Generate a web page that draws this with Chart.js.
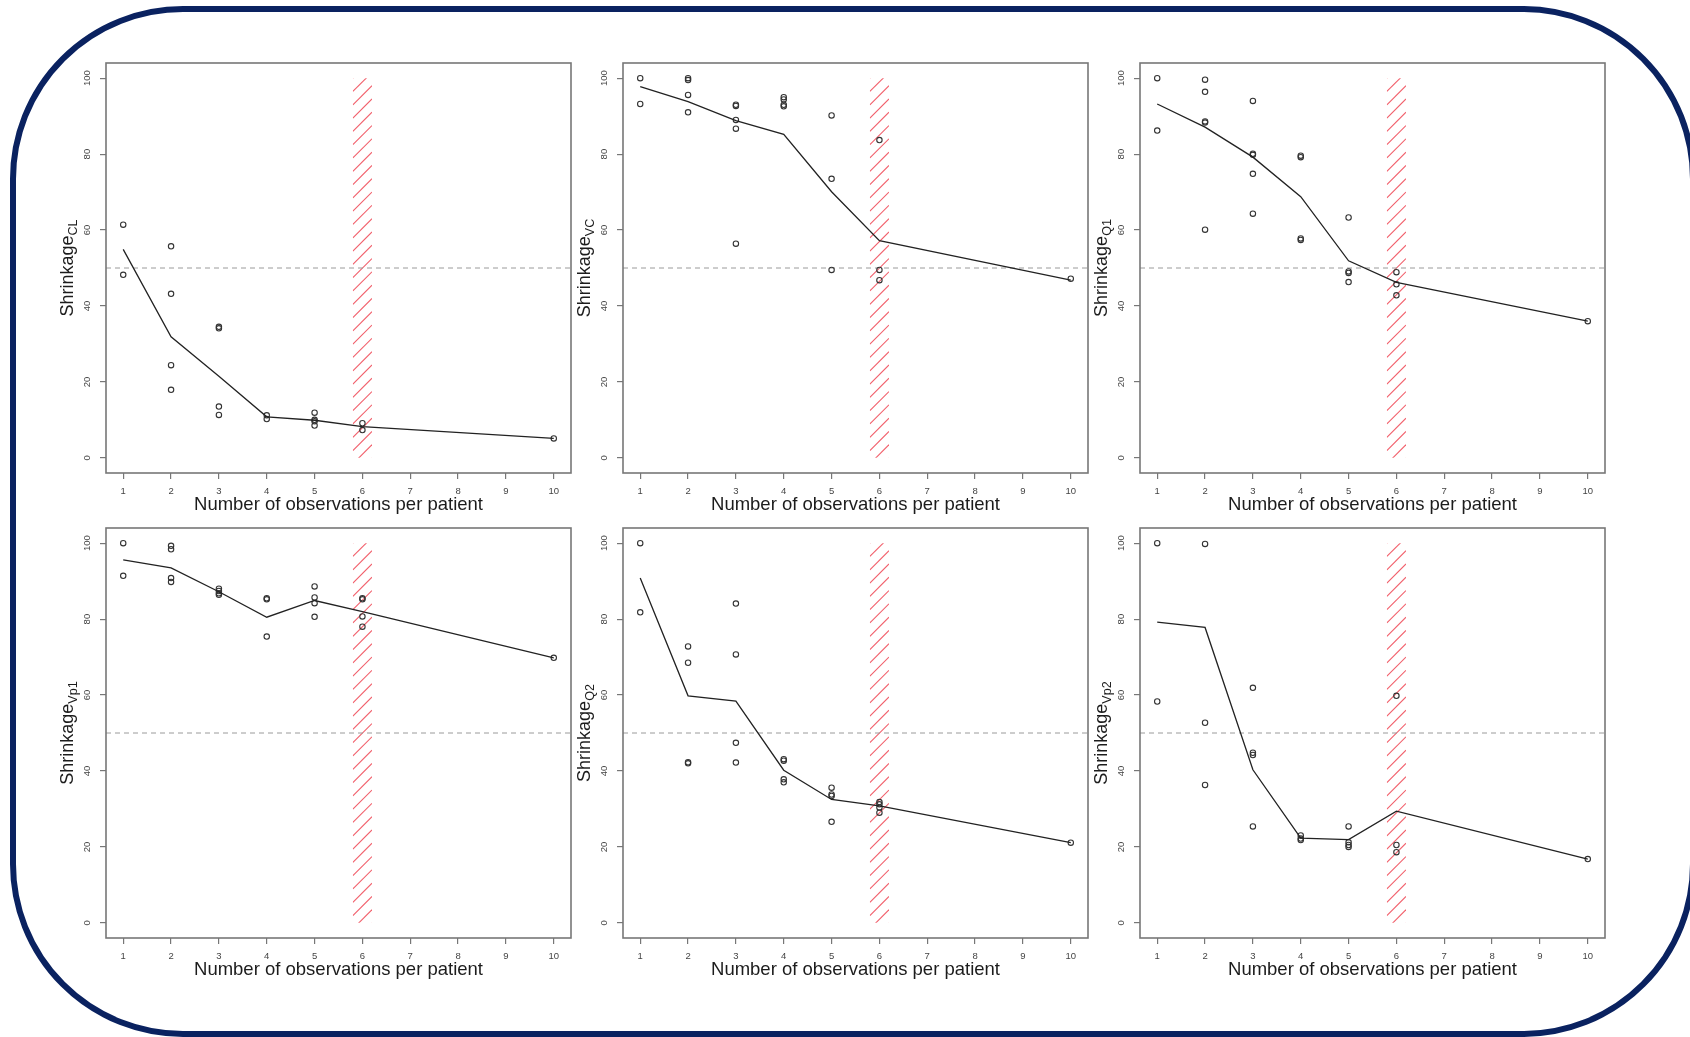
<!DOCTYPE html>
<html>
<head>
<meta charset="utf-8">
<script src="https://cdn.jsdelivr.net/npm/chart.js@4.4.1/dist/chart.umd.min.js"></script>
<style>
  html, body { margin: 0; padding: 0; background: #fff; }
  body { width: 1690px; height: 1037px; overflow: hidden; position: relative; }
  .frame {
    position: absolute; left: 9.5px; top: 6px; width: 1686.5px; height: 1031px;
    box-sizing: border-box; border: 6px solid #0a2260; border-radius: 173px;
  }
  canvas { position: absolute; }
</style>
</head>
<body>
<div class="frame"></div>
<script>
// number of observations per patient (x positions of the groups and of the mean line)
const obsCounts = [1, 2, 3, 4, 5, 6, 10];
const xTickValues = [1, 2, 3, 4, 5, 6, 7, 8, 9, 10];
const yTickValues = [0, 20, 40, 60, 80, 100];
const xTitle = 'Number of observations per patient';
const threshold = 50;
const bandFrom = 5.8;
const bandTo = 6.2;
const bandBottom = 0;
const bandTop = 100;

// shrinkage values of each replicate, grouped by obsCounts
const clPoints = [[61.4, 48.2], [55.7, 43.2, 24.4, 17.9], [34.5, 34.1, 13.5, 11.3], [11.2, 10.2], [11.9, 10.0, 9.6, 8.5], [9.1, 7.3], [5.1]];
const clMean = [54.9, 31.9, 21.5, 10.8, 9.9, 8.2, 5.1];

const vcPoints = [[100, 93.2], [100, 99.5, 95.6, 91.0], [93.0, 92.7, 89.0, 86.7, 56.4], [95.0, 94.4, 93.0, 92.6], [90.2, 73.5, 49.5], [83.7, 49.5, 46.8], [47.2]];
const vcMean = [97.8, 93.8, 88.8, 85.2, 70.1, 57.2, 46.8];

const q1Points = [[100, 86.2], [99.6, 96.4, 88.6, 88.3, 60.1], [94.0, 80.1, 79.8, 74.8, 64.3], [79.6, 79.2, 57.8, 57.4], [63.3, 49.1, 48.7, 46.3], [48.9, 45.7, 42.8], [36.0]];
const q1Mean = [93.2, 87.1, 79.2, 68.8, 51.9, 46.2, 36.0];

const vp1Points = [[100, 91.4], [99.3, 98.4, 90.8, 89.8], [88.0, 87.4, 86.8, 86.4], [85.5, 85.2, 75.4], [88.6, 85.7, 84.2, 80.6], [85.5, 85.2, 80.7, 78.0], [69.8]];
const vp1Mean = [95.6, 93.5, 87.2, 80.5, 84.9, 82.0, 69.8];

const q2Points = [[100, 81.8], [72.8, 68.5, 42.3, 42.0], [84.1, 70.7, 47.4, 42.2], [43.1, 42.7, 37.8, 37.0], [35.6, 33.8, 33.4, 26.6], [31.8, 31.2, 30.4, 29.0], [21.1]];
const q2Mean = [90.8, 59.8, 58.4, 40.2, 32.5, 30.8, 21.1];

const vp2Points = [[100, 58.3], [99.8, 52.7, 36.3], [61.9, 44.8, 44.2, 25.4], [23.0, 22.2, 21.8], [25.4, 21.2, 20.5, 20.0], [59.8, 20.5, 18.6], [16.8]];
const vp2Mean = [79.2, 77.8, 40.3, 22.3, 21.9, 29.4, 16.8];

const panels = [
  { sub: 'CL', points: clPoints, mean: clMean, left: 106, top: 63 },
  { sub: 'VC', points: vcPoints, mean: vcMean, left: 623, top: 63 },
  { sub: 'Q1', points: q1Points, mean: q1Mean, left: 1140, top: 63 },
  { sub: 'Vp1', points: vp1Points, mean: vp1Mean, left: 106, top: 528 },
  { sub: 'Q2', points: q2Points, mean: q2Mean, left: 623, top: 528 },
  { sub: 'Vp2', points: vp2Points, mean: vp2Mean, left: 1140, top: 528 },
];

const FONT = '"Liberation Sans", Arial, Helvetica, sans-serif';
Chart.defaults.font.family = FONT;

const BOX_W = 465, BOX_H = 410;
const PAD_L = 100, PAD_T = 15, PAD_R = 15, PAD_B = 60;

// hatched band, dashed 50% line, box and axis titles (R style)
const panelDecor = {
  id: 'panelDecor',
  beforeDatasetsDraw(chart) {
    const { ctx, chartArea: a, scales: { x, y } } = chart;
    const bx0 = x.getPixelForValue(bandFrom), bx1 = x.getPixelForValue(bandTo);
    const by0 = y.getPixelForValue(bandTop), by1 = y.getPixelForValue(bandBottom);
    const w = bx1 - bx0;
    ctx.save();
    ctx.beginPath();
    ctx.rect(bx0, by0, w, by1 - by0);
    ctx.clip();
    ctx.strokeStyle = 'rgba(238, 66, 80, 0.85)';
    ctx.lineWidth = 1.1;
    for (let yy = by0 - w; yy <= by1 + w; yy += 13.3) {
      ctx.beginPath();
      ctx.moveTo(bx0, yy + w);
      ctx.lineTo(bx1, yy);
      ctx.stroke();
    }
    ctx.restore();

    const ty = y.getPixelForValue(threshold);
    ctx.save();
    ctx.setLineDash([5, 4]);
    ctx.strokeStyle = '#9a9a9a';
    ctx.lineWidth = 1;
    ctx.beginPath();
    ctx.moveTo(a.left, ty);
    ctx.lineTo(a.right, ty);
    ctx.stroke();
    ctx.restore();
  },
  afterDraw(chart, args, opts) {
    const { ctx, chartArea: a } = chart;
    ctx.save();
    ctx.strokeStyle = '#777';
    ctx.lineWidth = 1.6;
    ctx.strokeRect(a.left, a.top, a.right - a.left, a.bottom - a.top);

    ctx.fillStyle = '#1c1c1c';
    ctx.textAlign = 'center';
    ctx.textBaseline = 'alphabetic';
    ctx.font = '18.5px ' + FONT;
    ctx.fillText(xTitle, (a.left + a.right) / 2, a.bottom + 37);

    ctx.translate(a.left - 33, (a.top + a.bottom) / 2);
    ctx.rotate(-Math.PI / 2);
    ctx.textAlign = 'left';
    const mainFont = '18px ' + FONT, subFont = '12.6px ' + FONT;
    ctx.font = mainFont;
    const w1 = ctx.measureText('Shrinkage').width;
    ctx.font = subFont;
    const w2 = ctx.measureText(opts.sub).width;
    const sx = -(w1 + w2) / 2;
    ctx.font = mainFont;
    ctx.fillText('Shrinkage', sx, 0);
    ctx.font = subFont;
    ctx.fillText(opts.sub, sx + w1, 4);
    ctx.restore();
  }
};

panels.forEach((p, i) => {
  const canvas = document.createElement('canvas');
  canvas.width = BOX_W + PAD_L + PAD_R;
  canvas.height = BOX_H + PAD_T + PAD_B;
  canvas.style.left = (p.left - PAD_L) + 'px';
  canvas.style.top = (p.top - PAD_T) + 'px';
  canvas.style.width = canvas.width + 'px';
  canvas.style.height = canvas.height + 'px';
  document.body.appendChild(canvas);

  const scatterData = [];
  p.points.forEach((vals, j) => vals.forEach(v => scatterData.push({ x: obsCounts[j], y: v })));
  const meanData = p.mean.map((v, j) => ({ x: obsCounts[j], y: v }));

  new Chart(canvas, {
    type: 'scatter',
    data: {
      datasets: [
        {
          data: meanData,
          showLine: true,
          borderColor: '#222',
          borderWidth: 1.3,
          pointRadius: 0,
          tension: 0,
          fill: false
        },
        {
          data: scatterData,
          showLine: false,
          pointRadius: 2.7,
          pointBorderWidth: 1.1,
          pointBorderColor: '#333',
          pointBackgroundColor: 'rgba(0,0,0,0)'
        }
      ]
    },
    options: {
      responsive: false,
      animation: false,
      devicePixelRatio: 1,
      layout: { padding: { left: 0, top: PAD_T, right: PAD_R, bottom: 0 } },
      plugins: {
        legend: { display: false },
        tooltip: { enabled: false },
        panelDecor: { sub: p.sub }
      },
      scales: {
        x: {
          type: 'linear',
          min: 0.64,
          max: 10.36,
          afterBuildTicks: s => { s.ticks = xTickValues.map(v => ({ value: v })); },
          afterFit: s => { s.height = PAD_B; },
          grid: { drawOnChartArea: false, drawTicks: true, tickLength: 6, color: '#777', lineWidth: 1.2 },
          border: { display: false },
          ticks: { font: { size: 9.5 }, color: '#444', padding: 7, maxRotation: 0, autoSkip: false }
        },
        y: {
          type: 'linear',
          min: -4,
          max: 104,
          afterBuildTicks: s => { s.ticks = yTickValues.map(v => ({ value: v })); },
          afterFit: s => { s.width = PAD_L; },
          grid: { drawOnChartArea: false, drawTicks: true, tickLength: 6, color: '#777', lineWidth: 1.2 },
          border: { display: false },
          ticks: { font: { size: 9.5 }, color: '#444', padding: 4.5, minRotation: 90, maxRotation: 90, crossAlign: 'center', autoSkip: false }
        }
      }
    },
    plugins: [panelDecor]
  });
});
</script>
</body>
</html>
